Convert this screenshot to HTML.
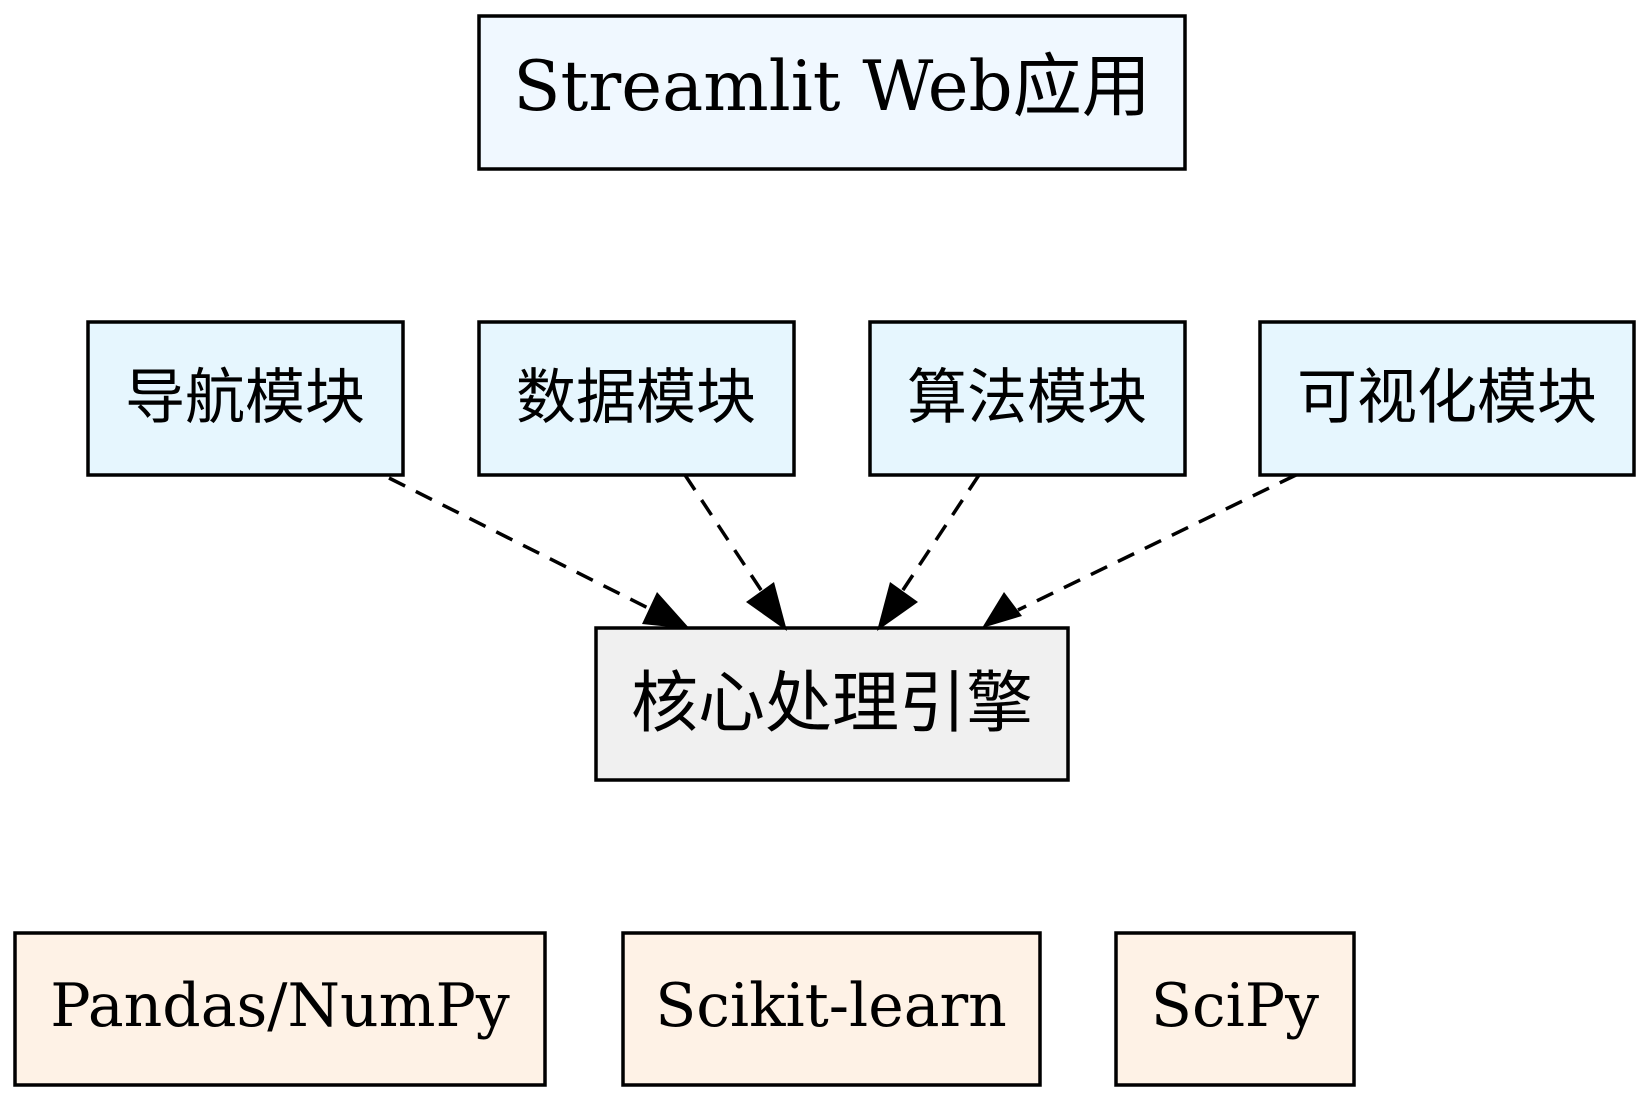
<!DOCTYPE html>
<html><head><meta charset="utf-8"><style>
html,body{margin:0;padding:0;background:#fff;width:1647px;height:1099px;overflow:hidden}
text{font-family:"DejaVu Serif","Liberation Serif","Noto Sans CJK SC",serif;}
.cn{font-family:"DejaVu Sans","Noto Sans CJK SC",sans-serif;}
</style></head><body>
<svg width="1647" height="1099" viewBox="0 0 1647 1099" xmlns="http://www.w3.org/2000/svg">
<g stroke="#000" stroke-width="3.5">
<rect x="479" y="16" width="706" height="153" fill="#f0f8ff"/>
<rect x="88" y="322" width="315" height="153" fill="#e6f6fe"/>
<rect x="479" y="322" width="315" height="153" fill="#e6f6fe"/>
<rect x="870" y="322" width="315" height="153" fill="#e6f6fe"/>
<rect x="1260" y="322" width="374" height="153" fill="#e6f6fe"/>
<rect x="596" y="628" width="472" height="152" fill="#f0f0f0"/>
<rect x="15" y="933" width="530" height="152" fill="#fef2e6"/>
<rect x="623" y="933" width="417" height="152" fill="#fef2e6"/>
<rect x="1116" y="933" width="238" height="152" fill="#fef2e6"/>
</g>
<g stroke="#000" stroke-width="3.5" stroke-dasharray="18,12" fill="none">
<line x1="389" y1="478" x2="650" y2="609"/>
<line x1="685" y1="475" x2="765" y2="596"/>
<line x1="979" y1="475" x2="899" y2="596"/>
<line x1="1296" y1="475" x2="1018" y2="610"/>
</g>
<g fill="#000">
<polygon points="690,629 642,624 657,592"/>
<polygon points="787,631 746,602 774,582"/>
<polygon points="877,631 890,582 918,602"/>
<polygon points="982,628 1004,592 1022,616"/>
</g>
<text x="832" y="110" font-size="69" text-anchor="middle">Streamlit Web<tspan class="cn">应用</tspan></text>
<text class="cn" x="245" y="418" font-size="60" text-anchor="middle">导航模块</text>
<text class="cn" x="636" y="418" font-size="60" text-anchor="middle">数据模块</text>
<text class="cn" x="1027" y="418" font-size="60" text-anchor="middle">算法模块</text>
<text class="cn" x="1447" y="418" font-size="60" text-anchor="middle">可视化模块</text>
<text class="cn" x="832" y="726" font-size="67" text-anchor="middle">核心处理引擎</text>
<text x="280" y="1026" font-size="60" text-anchor="middle">Pandas/NumPy</text>
<text x="831" y="1026" font-size="60" text-anchor="middle">Scikit-learn</text>
<text x="1235" y="1026" font-size="60" text-anchor="middle">SciPy</text>
</svg>
</body></html>
